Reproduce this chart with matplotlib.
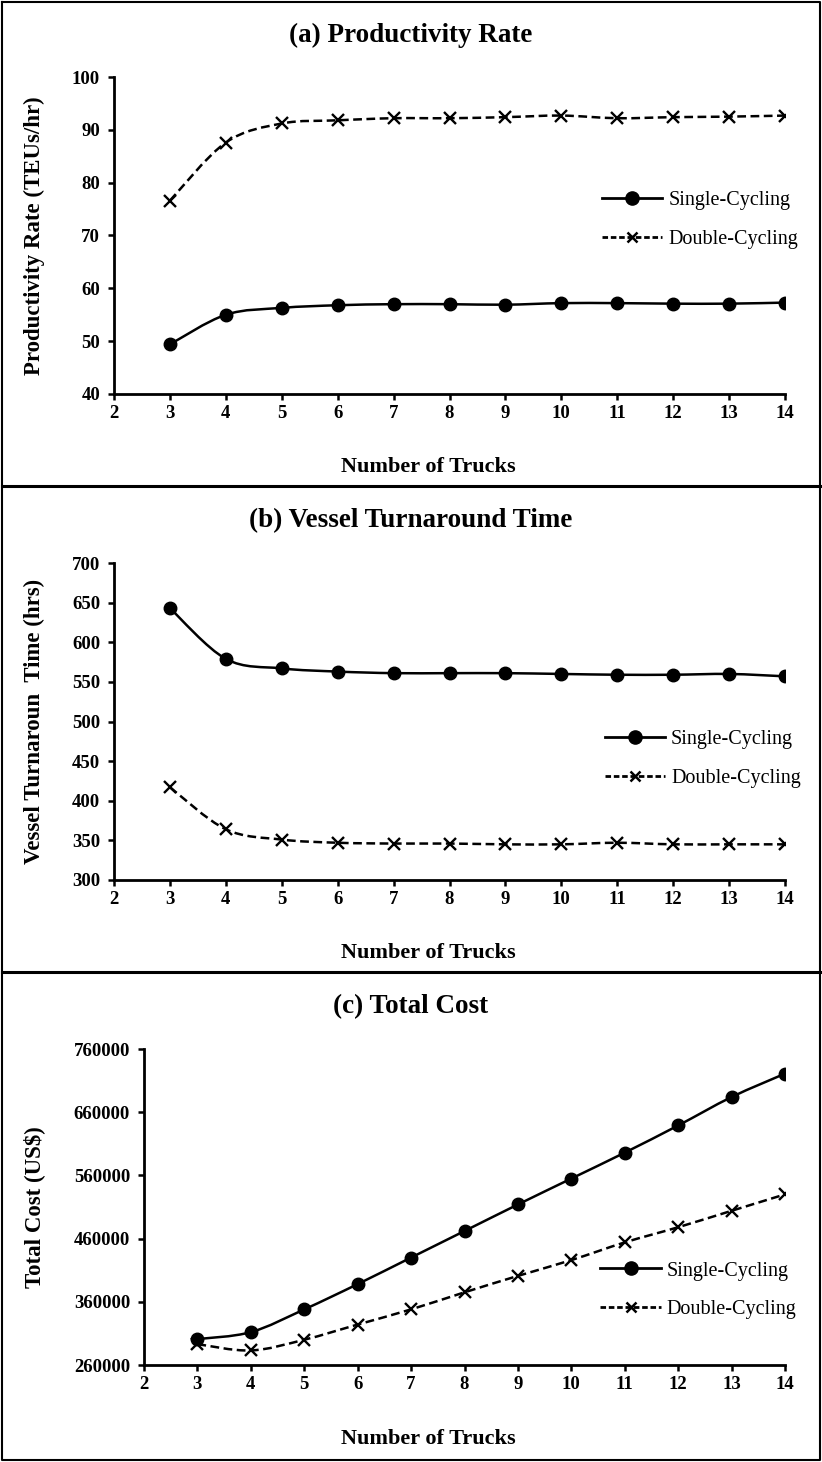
import numpy as np
import matplotlib.pyplot as plt
from matplotlib.path import Path
from matplotlib.patches import PathPatch
from matplotlib.lines import Line2D


trucks = [3, 4, 5, 6, 7, 8, 9, 10, 11, 12, 13, 14]

prod_single = [49.4, 55.0, 56.3, 56.8, 57.0, 57.0, 56.9, 57.2, 57.2, 57.1, 57.1, 57.3]
prod_double = [76.6, 87.6, 91.2, 91.8, 92.2, 92.2, 92.4, 92.7, 92.2, 92.4, 92.5, 92.7]

vtt_single = [643, 579, 567, 563, 561, 561, 561, 560, 559, 559, 560, 557]
vtt_double = [417, 364, 351, 347, 346, 346, 345, 345, 347, 345, 345, 345]

cost_single = [301000, 312000, 348000, 388000, 430000, 472000, 514000, 555000, 596000, 639000, 684000, 721000]
cost_double = [293000, 283000, 300000, 324000, 348000, 375000, 401000, 426000, 454000, 478000, 504000, 530000]

x_ticks = list(range(2, 15))
prod_ticks = [40, 50, 60, 70, 80, 90, 100]
vtt_ticks = [300, 350, 400, 450, 500, 550, 600, 650, 700]
cost_ticks = [260000, 360000, 460000, 560000, 660000, 760000]

titles = ["(a) Productivity Rate", "(b) Vessel Turnaround Time", "(c) Total Cost"]
ylabels = ["Productivity Rate (TEUs/hr)", "Vessel Turnaroun  Time (hrs)", "Total Cost (US$)"]
xlabel = "Number of Trucks"
labels = ["Single-Cycling", "Double-Cycling"]

W, H = 822, 1462
serif = "Liberation Serif"
plt.rcParams['font.family'] = [serif, 'DejaVu Serif']


def ax_rect(left, top, right, bottom):
    return [left / W, 1 - bottom / H, (right - left) / W, (bottom - top) / H]


def smooth_path(xs, ys):
    # excel style smoothed line: cubic bezier through every point
    p = np.column_stack([xs, ys]).astype(float)
    ext = np.vstack([p[0], p, p[-1]])
    verts = [p[0]]
    codes = [Path.MOVETO]
    for i in range(len(p) - 1):
        p0, p1, p2, p3 = ext[i], ext[i + 1], ext[i + 2], ext[i + 3]
        c1 = p1 + (p2 - p0) / 6
        c2 = p2 - (p3 - p1) / 6
        verts += [c1, c2, p2]
        codes += [Path.CURVE4] * 3
    return Path(verts, codes)


fig = plt.figure(figsize=(W / 100, H / 100), dpi=100)

panels = [
    (ax_rect(114, 77, 785, 394), prod_single, prod_double, prod_ticks, (0.727, 0.549)),
    (ax_rect(114, 563, 785, 880), vtt_single, vtt_double, vtt_ticks, (0.731, 0.382)),
    (ax_rect(144, 1049, 785, 1365), cost_single, cost_double, cost_ticks, (0.712, 0.237)),
]

for i, (rect, single, double, yt, leg_pos) in enumerate(panels):
    ax = fig.add_axes(rect)
    off = 486 * i

    ax.add_patch(PathPatch(smooth_path(trucks, single), fill=False, color="black", lw=1.8))
    ax.add_patch(PathPatch(smooth_path(trucks, double), fill=False, color="black", lw=1.8,
                           linestyle=(0, (3.5, 1.8))))
    ax.plot(trucks, single, linestyle="none", marker="o", ms=9, color="black")
    ax.plot(trucks, double, linestyle="none", marker="x", ms=8, mew=1.7, color="black")

    ax.set_xlim(2, 14)
    ax.set_ylim(yt[0], yt[-1])
    ax.set_xticks(x_ticks)
    ax.set_yticks(yt)
    ax.set_yticklabels([str(v) for v in yt])

    for s in ["top", "right"]:
        ax.spines[s].set_visible(False)
    for s in ["left", "bottom"]:
        ax.spines[s].set_linewidth(2)
    ax.tick_params(direction="out", length=4, width=1.8, labelsize=13.5)
    ax.tick_params(axis="y", pad=6)
    ax.tick_params(axis="x", pad=4)
    for lab in ax.get_xticklabels() + ax.get_yticklabels():
        lab.set_fontweight("bold")

    handles = [
        Line2D([], [], color="black", lw=2, marker="o", ms=9.5),
        Line2D([], [], color="black", lw=2, linestyle=(0, (2, 1)), marker="x", ms=7.5, mew=1.8),
    ]
    ax.legend(handles, labels, loc="center left", bbox_to_anchor=leg_pos, frameon=False,
              prop={"family": serif, "size": 14.5}, handlelength=3.0, handletextpad=0.3,
              borderpad=0, borderaxespad=0, labelspacing=0.95)

    fig.text(0.5, 1 - (35 + off) / H, titles[i], ha="center", va="center",
             fontsize=19.5, fontweight="bold")
    fig.text(428 / W, 1 - (467 + off) / H, xlabel, ha="center", va="center",
             fontsize=16, fontweight="bold")
    y_mid = rect[1] + rect[3] / 2
    fig.text(34 / W, y_mid, ylabels[i], rotation=90, ha="center", va="center",
             fontsize=16.5, fontweight="bold")

# outer frame and separators between the three panels
for xs, ys, lw in [
    ([2, 820, 820, 2, 2], [2, 2, 1460, 1460, 2], 1.5),
    ([2, 820], [486, 486], 2.2),
    ([2, 820], [972, 972], 2.2),
]:
    fig.add_artist(Line2D([v / W for v in xs], [1 - v / H for v in ys],
                          color="black", lw=lw, transform=fig.transFigure))

fig.savefig("out.png", dpi=100)
